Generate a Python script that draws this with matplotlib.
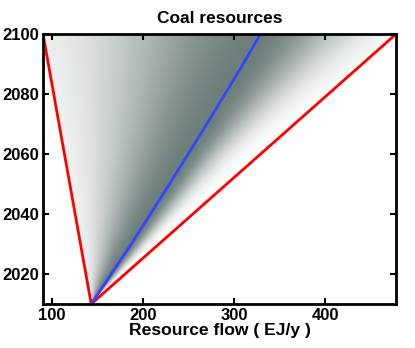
import numpy as np
import matplotlib.pyplot as plt
from matplotlib.colors import LinearSegmentedColormap

plt.rcParams['font.family'] = ['Liberation Sans', 'DejaVu Sans']
plt.rcParams['font.weight'] = 'bold'

# envelope (red) and central path (blue)
low_years = [2010, 2100]
low_flow = [143, 90]
high_years = [2010, 2100]
high_flow = [143, 478]
mid_years = [2010, 2030, 2050, 2070, 2090, 2100]
mid_flow = [143, 187, 229, 270, 310, 329]

# spread of the shaded band, as a share of the gap to each red line
spread_years = [2010, 2060, 2100]
left_share = [0.45, 0.46, 0.48]
right_share = [0.30, 0.31, 0.42]

fig = plt.figure(figsize=(4.15, 3.48), dpi=100)
ax = fig.add_axes([0.1036, 0.1264, 0.8506, 0.7756])

# shaded density behind the lines
xs = np.linspace(90, 478, 600)
ys = np.linspace(2010, 2100, 300)
X, Y = np.meshgrid(xs, ys)
lo = np.interp(Y, low_years, low_flow)
hi = np.interp(Y, high_years, high_flow)
mid = np.interp(Y, mid_years, mid_flow)
sl = np.maximum(np.interp(Y, spread_years, left_share) * (mid - lo), 1e-6)
sr = np.maximum(np.interp(Y, spread_years, right_share) * (hi - mid), 1e-6)
z = np.where(X < mid, np.exp(-0.5 * ((X - mid) / sl) ** 2),
             np.exp(-0.5 * ((X - mid) / sr) ** 2))
z[(X < lo) | (X > hi)] = 0
cmap = LinearSegmentedColormap.from_list('coal', ['#ffffff', '#6e7f7b'])
ax.imshow(z, extent=[90, 478, 2010, 2100], origin='lower', aspect='auto',
          cmap=cmap, vmin=0, vmax=1, interpolation='bilinear')

ax.plot(low_flow, low_years, color='#ff0000', lw=2)
ax.plot(high_flow, high_years, color='#ff0000', lw=2)
ax.plot(mid_flow, mid_years, color='#3344ff', lw=2)

ax.set_xlim(90, 478)
ax.set_ylim(2010, 2100)
ax.set_xticks([100, 200, 300, 400])
ax.set_yticks([2020, 2040, 2060, 2080, 2100])
ax.tick_params(direction='in', length=4, width=1.5, top=True, right=True,
               labelsize=12, pad=3)
for s in ax.spines.values():
    s.set_linewidth(2)
ax.set_title('Coal resources', fontsize=12.5, fontweight='bold', pad=8)
ax.set_xlabel('Resource flow ( EJ/y )', fontsize=12.6, fontweight='bold', labelpad=0)

fig.savefig('out.png', dpi=100)
